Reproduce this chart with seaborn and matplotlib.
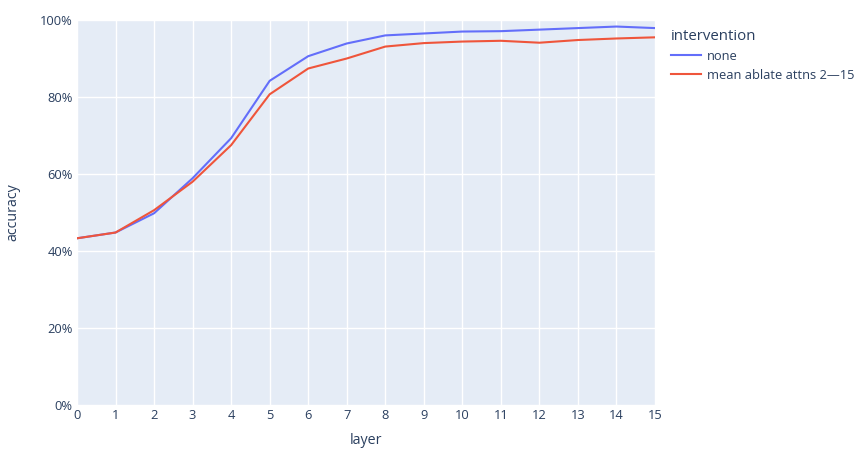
import matplotlib
matplotlib.use("Agg")
import matplotlib.pyplot as plt
import pandas as pd
import seaborn as sns
from matplotlib.ticker import PercentFormatter

layers = list(range(16))
acc_none = [0.433, 0.448, 0.498, 0.589, 0.693, 0.842, 0.906, 0.939,
            0.960, 0.965, 0.970, 0.971, 0.975, 0.979, 0.983, 0.979]
acc_ablate = [0.433, 0.448, 0.506, 0.580, 0.675, 0.807, 0.874, 0.900,
              0.931, 0.940, 0.944, 0.946, 0.941, 0.948, 0.952, 0.955]
labels = ["none", "mean ablate attns 2\u201415"]
colors = ["#636EFA", "#EF553B"]

df = pd.DataFrame({
    "layer": layers * 2,
    "accuracy": acc_none + acc_ablate,
    "intervention": [labels[0]] * 16 + [labels[1]] * 16,
})

text_color = "#2a3f5f"
plt.rcParams["font.family"] = ["Open Sans", "DejaVu Sans"]

fig = plt.figure(figsize=(8.6, 4.55), dpi=100)
ax = fig.add_axes([77 / 860, 1 - 405 / 455, (655 - 77) / 860, (405 - 20) / 455])
ax.set_facecolor("#E5ECF6")

sns.lineplot(data=df, x="layer", y="accuracy", hue="intervention",
             palette=colors, linewidth=1.5, ax=ax)

ax.set_xlim(0, 15)
ax.set_ylim(0, 1)
ax.set_xticks(layers)
ax.set_yticks([0, 0.2, 0.4, 0.6, 0.8, 1.0])
ax.yaxis.set_major_formatter(PercentFormatter(1.0, decimals=0))
ax.grid(True, color="white", linewidth=1)
ax.set_axisbelow(True)
for s in ax.spines.values():
    s.set_visible(False)
ax.tick_params(length=0, colors=text_color, labelsize=9.3, pad=3)
ax.set_xlabel("layer", color=text_color, fontsize=10.3, labelpad=8)
ax.set_ylabel("accuracy", color=text_color, fontsize=10.3, labelpad=14)

leg = ax.legend(title="intervention", loc="upper left", bbox_to_anchor=(1.012, 1.0),
                frameon=False, fontsize=9.3, title_fontsize=10.8,
                handlelength=2.3, handletextpad=0.5, labelspacing=0.45,
                borderaxespad=0.3)
leg._legend_box.align = "left"
for t in leg.get_texts():
    t.set_color(text_color)
leg.get_title().set_color(text_color)

fig.savefig("out.png", dpi=100)
